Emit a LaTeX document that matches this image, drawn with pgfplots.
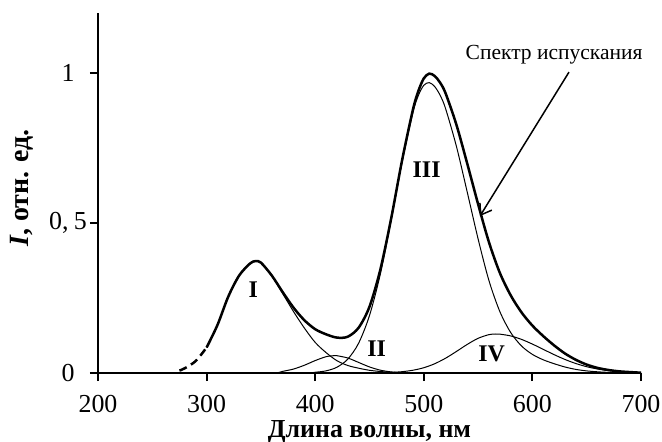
\documentclass[border=0pt]{standalone}
\usepackage{pgfplots}
\pgfplotsset{compat=1.18}
\usepackage{fontspec}
\setmainfont{Liberation Serif}
\usetikzlibrary{arrows.meta}

\begin{document}
\begin{tikzpicture}
\begin{axis}[
  name=ax,
  scale only axis, width=271.5bp, height=180bp,
  xmin=200, xmax=700, ymin=0, ymax=1.2,
  axis lines*=left,
  axis line style={line width=1bp, black},
  xtick={200,300,400,500,600,700},
  ytick={0,0.5,1}, yticklabels={0,{0,\hspace{0.2em}5},1},
  tick align=outside, major tick length=4bp,
  tick style={line width=1bp, black},
  ticklabel style={font=\fontsize{13}{15}\selectfont},
  xticklabel style={inner sep=0pt, yshift=-7bp},
  yticklabel style={anchor=center, xshift=-11bp},
  /pgf/number format/assume math mode=true,
  xlabel={Длина волны, нм},
  ylabel={\textbf{\textit{I}, отн. ед.}},
  xlabel style={at={(axis description cs:0.5,-0.1320)}, anchor=north, inner sep=0pt, font=\fontsize{13}{15}\selectfont\bfseries},
  ylabel style={at={(axis description cs:-0.1405,0.514)}, anchor=center, font=\fontsize{14}{16}\selectfont\bfseries},
  clip=false,
]
\coordinate (O) at (axis cs:200,0);

% Total emission spectrum (dashed extrapolation)
\addplot[black, line width=1.25bp, smooth, dash pattern=on 4bp off 2.5bp] coordinates {
(275,0.008) (280,0.016) (290,0.040) (300,0.085)};

% Total emission spectrum
\addplot[black, line width=1.25bp, smooth] coordinates {
(300,0.085) (310,0.160) (320,0.255) (330,0.325) (340,0.365) (345,0.373)
(350,0.368) (360,0.325) (370,0.270) (380,0.218) (390,0.176) (400,0.146)
(410,0.129) (420,0.118) (430,0.121) (440,0.151) (450,0.221) (460,0.345)
(470,0.516) (480,0.709) (490,0.878) (495,0.940) (500,0.982) (505,0.998)
(510,0.990) (515,0.968) (520,0.933) (530,0.828) (540,0.698) (550,0.563)
(560,0.436) (570,0.334) (580,0.259) (590,0.202) (600,0.158) (610,0.123)
(620,0.092) (630,0.065) (640,0.044) (650,0.028) (660,0.017) (670,0.010)
(680,0.0055) (690,0.003) (700,0.001)};

% Component I
\addplot[black, line width=0.5bp, smooth] coordinates {
(300,0.085) (310,0.160) (320,0.255) (330,0.325) (340,0.365) (345,0.373)
(350,0.368) (360,0.325) (370,0.265) (380,0.205) (390,0.150) (400,0.102)
(410,0.068) (420,0.041) (430,0.025) (440,0.016) (450,0.009) (460,0.005)
(470,0.002) (480,0.0)};

% Component II
\addplot[black, line width=0.5bp, smooth] coordinates {
(365,0.0) (370,0.0053) (380,0.0131) (390,0.0258) (400,0.0414) (410,0.0543)
(418,0.058) (420,0.0577) (430,0.050) (440,0.0352) (450,0.0202)
(460,0.0094) (470,0.0036) (480,0.0011) (490,0.0)};

% Component III
\addplot[black, line width=0.5bp, smooth] coordinates {
(395,0.0) (400,0.0024) (410,0.0071) (420,0.0192) (430,0.0462) (440,0.0994)
(450,0.1916) (460,0.330) (470,0.509) (480,0.703) (490,0.868) (495,0.925)
(500,0.959) (505,0.968) (510,0.955) (515,0.926) (520,0.882) (530,0.756)
(540,0.603) (550,0.447) (560,0.308) (570,0.205) (580,0.135) (590,0.090)
(600,0.062) (610,0.044) (620,0.031) (630,0.020) (640,0.012) (650,0.007)
(660,0.004) (670,0.002) (680,0.001) (690,0.0005) (700,0.0)};

% Component IV
\addplot[black, line width=0.5bp, smooth] coordinates {
(450,0.0) (460,0.0007) (470,0.0019) (480,0.0044) (490,0.0092) (500,0.0176)
(510,0.0308) (520,0.0492) (530,0.0717) (540,0.0953) (550,0.1156)
(560,0.1279) (566,0.130) (570,0.1295) (580,0.1236) (590,0.112) (600,0.0964)
(610,0.0788) (620,0.0612) (630,0.0451) (640,0.0316) (650,0.021)
(660,0.0133) (670,0.008) (680,0.0045) (690,0.0025) (700,0.0013)};

% Labels
\node[font=\fontsize{12}{14}\selectfont\bfseries] at (axis cs:343,0.277) {I};
\node[font=\fontsize{12}{14}\selectfont\bfseries] at (axis cs:456.5,0.082) {II};
\node[font=\fontsize{12}{14}\selectfont\bfseries] at (axis cs:502.6,0.677) {III};
\node[font=\fontsize{12}{14}\selectfont\bfseries] at (axis cs:562.5,0.063) {IV};

\node[font=\fontsize{10.8}{13}\selectfont] at (axis cs:620,1.06) {Спектр испускания};
\draw[line width=0.75bp, -{Straight Barb[length=5bp,width=7bp]}] (axis cs:633.7,1.003) -- (axis cs:551.7,0.523);
\end{axis}
\pgfresetboundingbox
\path ([shift={(-49bp,-34.5bp)}]O) rectangle ([shift={(282bp,186.5bp)}]O);
\end{tikzpicture}
\end{document}
